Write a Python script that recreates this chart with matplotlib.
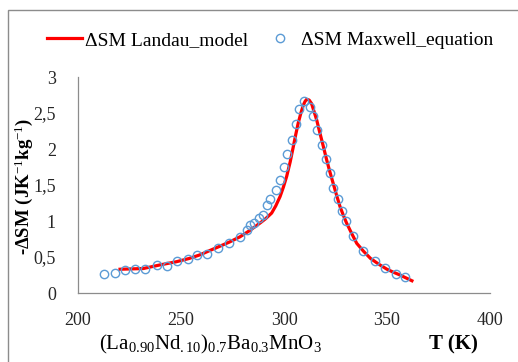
import numpy as np
import matplotlib.pyplot as plt
from matplotlib.patches import Rectangle

plt.rcParams['font.family'] = ['Liberation Serif', 'DejaVu Serif']
plt.rcParams['mathtext.fontset'] = 'custom'
plt.rcParams['mathtext.rm'] = 'Liberation Serif'
plt.rcParams['mathtext.it'] = 'Liberation Serif:italic'
plt.rcParams['mathtext.bf'] = 'Liberation Serif:bold'

# Maxwell equation points
t_maxwell = [212.8, 218.0, 222.8, 227.7, 232.7, 238.2, 243.0, 248.2, 253.3, 258.0,
             262.8, 268.2, 273.4, 278.4, 281.9, 283.5, 285.4, 288.0, 290.0, 291.6,
             293.4, 296.1, 298.0, 300.0, 301.5, 304.1, 306.0, 307.3, 309.5, 312.6,
             314.3, 315.9, 318.3, 320.5, 322.3, 323.8, 326.2, 328.0, 330.2, 333.4,
             338.4, 344.0, 349.0, 354.2, 358.7]
ds_maxwell = [0.26, 0.28, 0.315, 0.33, 0.34, 0.39, 0.375, 0.44, 0.47, 0.53,
              0.545, 0.625, 0.695, 0.775, 0.875, 0.944, 0.976, 1.04, 1.08, 1.22,
              1.31, 1.43, 1.57, 1.75, 1.925, 2.125, 2.35, 2.56, 2.66, 2.58,
              2.465, 2.26, 2.06, 1.86, 1.67, 1.46, 1.30, 1.135, 1.00, 0.79,
              0.59, 0.44, 0.35, 0.265, 0.22]

# Landau model curve
t_landau = [220.4, 226.0, 231.7, 239.8, 247.9, 254.0, 259.2, 264.0, 268.9, 273.7,
            278.6, 283.5, 288.3, 291.0, 294.0, 296.0, 298.1, 299.7, 301.3, 303.0,
            304.5, 305.7, 306.9, 308.2, 309.4, 310.2, 311.0, 312.2, 313.4, 314.6,
            315.9, 317.1, 318.3, 319.5, 320.7, 322.3, 323.9, 325.5, 327.2, 328.8,
            330.4, 332.8, 335.3, 338.6, 342.0, 346.0, 350.0, 353.0, 356.3, 359.2, 362.1]
ds_landau = [0.33, 0.335, 0.34, 0.39, 0.435, 0.48, 0.53, 0.59, 0.65, 0.71,
             0.78, 0.87, 0.97, 1.03, 1.11, 1.21, 1.34, 1.47, 1.62, 1.82,
             2.03, 2.20, 2.36, 2.50, 2.61, 2.66, 2.69, 2.68, 2.63, 2.52,
             2.40, 2.26, 2.125, 1.99, 1.85, 1.68, 1.52, 1.36, 1.20, 1.08,
             0.97, 0.83, 0.69, 0.58, 0.48, 0.40, 0.33, 0.29, 0.25, 0.21, 0.17]

x_ticks = [200, 250, 300, 350, 400]
y_ticks = [0, 0.5, 1, 1.5, 2, 2.5, 3]
y_labels = ['0', '0,5', '1', '1,5', '2', '2,5', '3']

fig = plt.figure(figsize=(5.18, 3.62), dpi=100)
ax = fig.add_axes([78 / 518, 1 - 293 / 362, 412 / 518, 216 / 362])

ax.plot(t_landau, ds_landau, color='#ff0000', lw=2.3, label='ΔSM Landau_model', zorder=2)
ax.plot(t_maxwell, ds_maxwell, 'o', mfc='none', mec='#5b9bd5', ms=6, mew=1,
        label='ΔSM Maxwell_equation', zorder=3)

ax.set_xlim(200, 400)
ax.set_ylim(0, 3)
ax.set_xticks(x_ticks)
ax.set_yticks(y_ticks)
ax.set_yticklabels(y_labels)
ax.tick_params(length=0, labelsize=13, colors='#262626')
ax.tick_params(axis='x', pad=14)
ax.tick_params(axis='y', pad=16)
for s in ['top', 'right']:
    ax.spines[s].set_visible(False)
for s in ['left', 'bottom']:
    ax.spines[s].set_color('#8c8c8c')
    ax.spines[s].set_linewidth(0.9)

fig.text(24 / 518, 1 - 186 / 362, '-ΔSM (JK$^{-1}$kg$^{-1}$)', rotation=90,
         ha='center', va='center', fontsize=13.5, fontweight='bold')
fig.text(453 / 518, 1 - 344 / 362, 'T (K)', ha='center', va='center',
         fontsize=15, fontweight='bold')
fig.text(210 / 518, 1 - 344 / 362,
         r'(La$_{0.90}$Nd$_{.10}$)$_{0.7}$Ba$_{0.3}$MnO$_{3}$',
         ha='center', va='center', fontsize=15)

fig.legend(loc='center', bbox_to_anchor=(270 / 518, 1 - 40 / 362), ncol=2, frameon=False,
           fontsize=14, handlelength=1.8, handletextpad=0.15, columnspacing=0.75)

# outer chart border (cropped on the right and bottom)
fig.patches.append(Rectangle((8 / 518, -0.2), 1.2, 1.2 - 10 / 362,
                             transform=fig.transFigure, fill=False,
                             edgecolor='#8c8c8c', lw=1.0, clip_on=False))

fig.savefig('out.png', dpi=100)
